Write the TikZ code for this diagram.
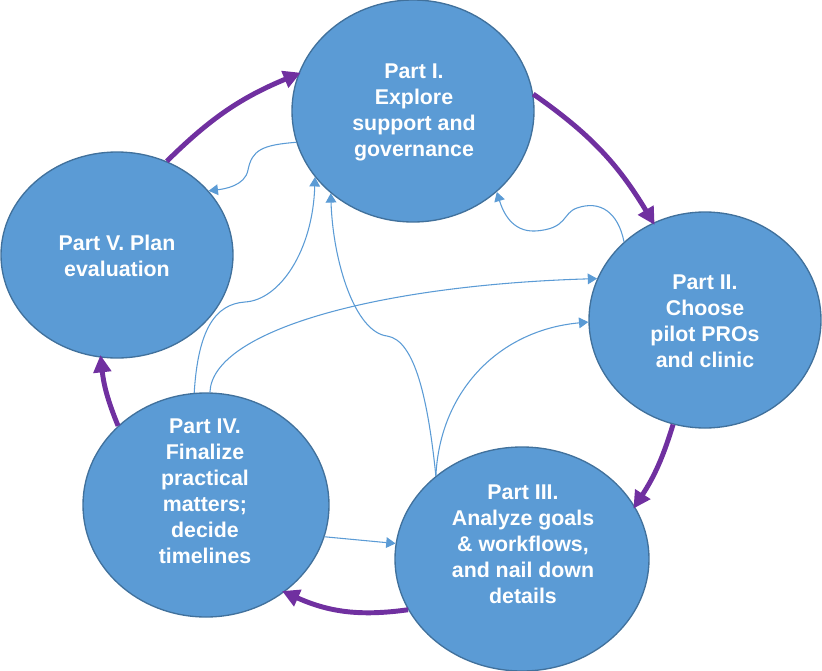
\documentclass[tikz,border=0pt]{standalone}
\usepackage{fontspec}
\setmainfont{Liberation Sans}
\usepackage{xcolor}
\usepackage{tikz}
\usetikzlibrary{shapes.geometric}
\usetikzlibrary{arrows.meta}
\definecolor{partblue}{HTML}{5B9BD5}
\definecolor{partedge}{HTML}{41719C}
\definecolor{cyclepurple}{HTML}{7030A0}

\begin{document}
\begin{tikzpicture}[x=0.75pt,y=-0.75pt,
		part node/.style={ellipse, draw=partedge, line width=1pt, fill=partblue, inner sep=0pt},
		part text/.style={text=white, font=\bfseries\fontsize{16}{19.5}\selectfont, align=center},
		cycle arrow/.style={cyclepurple, line width=3.7pt, -{Triangle[length=13pt,width=13pt]}, shorten >=-2pt, bend left=#1},
		link/.style={partblue, line width=0.8pt, -{Triangle[length=7pt,width=8pt]}}]
			\useasboundingbox (0,0) rectangle (822,671);
			% Nodes
			\node[part node, minimum width=181.5pt, minimum height=166.5pt] (1) at (413,111) {};
			\node[part node, minimum width=174pt, minimum height=162pt] (2) at (705,320) {};
			\node[part node, minimum width=190.5pt, minimum height=168pt] (3) at (522,559) {};
			\node[part node, minimum width=184.5pt, minimum height=168pt] (4) at (206,505) {};
			\node[part node, minimum width=174pt, minimum height=154.5pt] (5) at (117,255) {};
			
			\node[part text] (t1) at (414,112) {Part I.\\Explore\\support and\\governance};
			\node[part text] (t2) at (705,321) {Part II.\\Choose\\pilot PROs\\and clinic};
			\node[part text] (t3) at (523,544) {Part III.\\Analyze goals\\\& workflows,\\and nail down\\details};
			\node[part text] (t4) at (205,491) {Part IV.\\Finalize\\practical\\matters;\\decide\\timelines};
			\node[part text] (t5) at (117,256) {Part V. Plan\\evaluation};
			
			% thin links
			\draw[link] (1.195) .. controls (262,145) and (252,150) .. (248,170) .. controls (245,186) and (224,189) .. (5.35);
			\draw[link] (2.136) .. controls (618,212) and (600,200) .. (577,208) .. controls (562,213) and (568,229) .. (535,231) .. controls (512,232) and (503,212) .. (1.316);
			\draw[link] (4.96) .. controls (198,330) and (215,304) .. (245,302) .. controls (280,300) and (313,250) .. (1.214);
			\draw[link] (4.88) .. controls (212,330) and (380,285) .. (2.159);
			\draw[link] (3.136) .. controls (428,400) and (415,340) .. (387,336) .. controls (355,332) and (333,262) .. (1.225);
			\draw[link] (3.136) .. controls (440,390) and (500,330) .. (2.181);
			\draw[link] (4.345) -- (3.173);
			
			% cycle
			\path
			(5.62) edge[cycle arrow=11] (1.162)
			(1.8) edge[cycle arrow=12] (2.118)
			(2.253) edge[cycle arrow=8] (3.25)
			(3.204) edge[cycle arrow=16] (4.312)
			(4.138) edge[cycle arrow=8] (5.261);
			
		\end{tikzpicture}
\end{document}
